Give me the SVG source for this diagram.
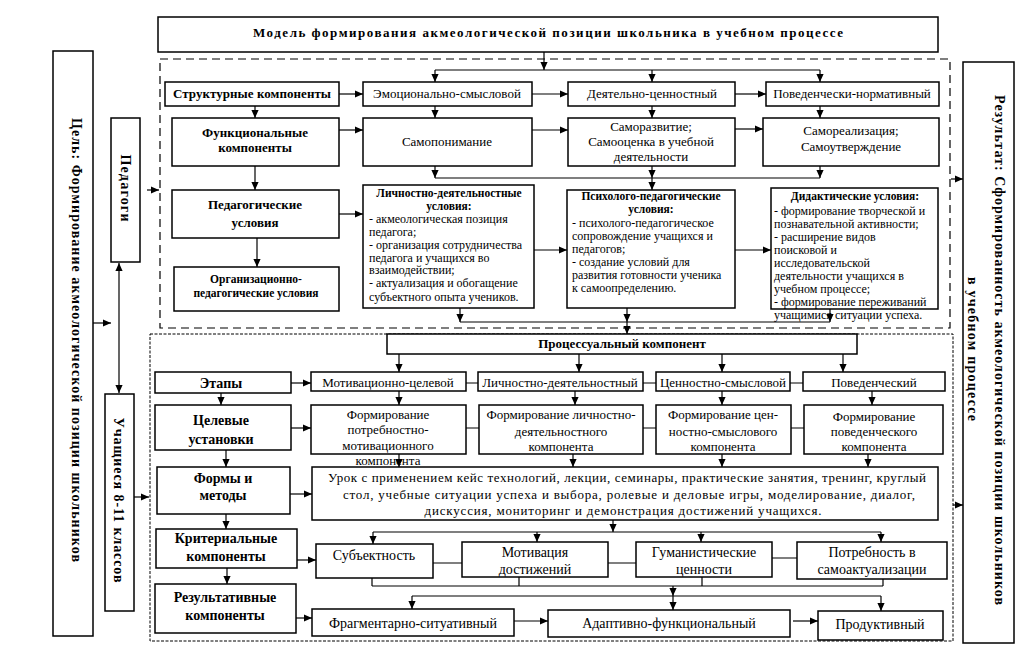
<svg xmlns="http://www.w3.org/2000/svg" width="1022" height="659" viewBox="0 0 1022 659">
<defs>
<marker id="ah" viewBox="0 0 10 10" refX="10" refY="5" markerWidth="8" markerHeight="8" markerUnits="userSpaceOnUse" orient="auto"><path d="M0,0.5 L10,5 L0,9.5 z" fill="#000"/></marker>
<marker id="as" viewBox="0 0 10 10" refX="10" refY="5" markerWidth="8" markerHeight="8" markerUnits="userSpaceOnUse" orient="auto-start-reverse"><path d="M0,0.5 L10,5 L0,9.5 z" fill="#000"/></marker>
</defs>
<style>
.bx{fill:#fff;stroke:#000;stroke-width:1.5}
.fr{fill:none;stroke:#000}
text{font-family:"Liberation Serif","Times New Roman",serif;fill:#000}
.t{font-size:13px;text-anchor:middle}
.tm{font-size:14px;text-anchor:middle}
.s{font-size:12px}
.sc{font-size:11.5px;text-anchor:middle}
.b{font-weight:bold}
.cn path{stroke:#000;stroke-width:1.2;fill:none}
.cn .ar{marker-end:url(#ah)}
</style>
<rect width="1022" height="659" fill="#fff"/>

<g id="frames">
<rect class="fr" x="160" y="59" width="790" height="269" stroke-width="1.2" stroke-dasharray="8,5"/>
<rect class="fr" x="150" y="334" width="803" height="307" stroke-width="1" stroke-dasharray="3,1.5"/>
</g>

<g class="cn" id="connectors">
<path class="ar" d="M147,190 H159"/>
<path class="ar" d="M93,323 H111"/>
<path class="ar" d="M134,497 H149"/>
<path d="M119,263 V393" marker-start="url(#as)" marker-end="url(#ah)"/>
<path class="ar" d="M951,179 H963"/>
<path class="ar" d="M953,505 H963"/>
<path class="ar" d="M544,52 V70"/>
<path d="M435,70 H820"/>
<path class="ar" d="M435,70 V82"/>
<path class="ar" d="M652,70 V82"/>
<path class="ar" d="M820,70 V82"/>
<path class="ar" d="M339,94 H363"/>
<path class="ar" d="M532,94 H568"/>
<path class="ar" d="M735,94 H766"/>
<path class="ar" d="M255,106 V118"/>
<path class="ar" d="M435,106 V118"/>
<path class="ar" d="M652,106 V118"/>
<path class="ar" d="M820,106 V118"/>
<path class="ar" d="M339,130 H363"/>
<path class="ar" d="M532,130 H568"/>
<path class="ar" d="M735,129 H763"/>
<path class="ar" d="M255,166 V190"/>
<path class="ar" d="M435,166 V178"/>
<path class="ar" d="M652,166 V178"/>
<path class="ar" d="M820,166 V178"/>
<path d="M435,178 H820"/>
<path class="ar" d="M652,178 V190"/>
<path class="ar" d="M257,238 V267"/>
<path class="ar" d="M339,214 H363"/>
<path class="ar" d="M534,250 H567"/>
<path class="ar" d="M735,250 H771"/>
<path class="ar" d="M460,308 V322"/>
<path class="ar" d="M627,308 V322"/>
<path class="ar" d="M830,309 V322"/>
<path d="M460,322 H830"/>
<path class="ar" d="M627,322 V334"/>
<path class="ar" d="M399,354 V372"/>
<path class="ar" d="M579,354 V372"/>
<path class="ar" d="M722,354 V372"/>
<path class="ar" d="M843,354 V372"/>
<path class="ar" d="M291,383 H311"/>
<path d="M466,383 H478 M643,383 H656 M790,383 H803"/>
<path class="ar" d="M221,393 V405"/>
<path class="ar" d="M399,391 V405"/>
<path class="ar" d="M575,391 V405"/>
<path class="ar" d="M722,391 V405"/>
<path class="ar" d="M872,391 V405"/>
<path class="ar" d="M291,428 H311"/>
<path d="M466,428 H479 M643,428 H656 M791,428 H804"/>
<path class="ar" d="M226,450 V467"/>
<path class="ar" d="M399,454 V467"/>
<path class="ar" d="M573,454 V467"/>
<path class="ar" d="M722,454 V467"/>
<path class="ar" d="M868,454 V467"/>
<path class="ar" d="M290,494 H312"/>
<path class="ar" d="M226,514 V529"/>
<path class="ar" d="M613,520 V532"/>
<path d="M373,532 H881"/>
<path class="ar" d="M373,532 V544"/>
<path class="ar" d="M537,532 V542"/>
<path class="ar" d="M701,532 V542"/>
<path class="ar" d="M881,532 V542"/>
<path class="ar" d="M297,560 H316"/>
<path d="M433,563 H462 M608,563 H636 M772,558 H797"/>
<path d="M372,578 V586 M519,577 V586 M702,577 V586 M883,579 V586 M372,586 H883"/>
<path class="ar" d="M673,586 V596"/>
<path d="M412,596 H881"/>
<path class="ar" d="M412,596 V609"/>
<path class="ar" d="M673,596 V610"/>
<path class="ar" d="M881,596 V611"/>
<path class="ar" d="M227,568 V584"/>
<path class="ar" d="M296,618 H312"/>
<path class="ar" d="M514,621 H548"/>
<path class="ar" d="M793,621 H818"/>
</g>

<g id="title"><rect class="bx" x="158" y="17" width="780" height="35"/>
<text class="t b" x="548" y="37" font-size="14.5" textLength="590">Модель формирования акмеологической позиции школьника в учебном процессе</text></g>

<g id="goal"><rect class="bx" x="53" y="51" width="40" height="585"/>
<text class="tm b" transform="translate(72,340) rotate(90)" textLength="444">Цель: Формирование акмеологической позиции школьников</text></g>

<g id="teachers"><rect class="bx" x="111" y="118" width="29" height="144"/>
<text class="tm b" transform="translate(121,188) rotate(90)" textLength="67">Педагоги</text></g>

<g id="students"><rect class="bx" x="105" y="394" width="29" height="217"/>
<text class="tm b" transform="translate(114,500) rotate(90)" textLength="165">Учащиеся 8-11 классов</text></g>

<g id="result"><rect class="bx" x="963" y="62" width="51" height="581"/>
<text class="tm b" transform="translate(995,350) rotate(90)" textLength="510">Результат: Сформированность акмеологической позиции школьников</text>
<text class="tm b" transform="translate(968,349) rotate(90)" textLength="144">в учебном процессе</text></g>

<g id="structural"><rect class="bx" x="165" y="82" width="174" height="24"/>
<text class="t b" x="252" y="98" textLength="158">Структурные компоненты</text></g>
<g id="emotional"><rect class="bx" x="363" y="82" width="169" height="24"/>
<text class="t" x="447" y="98">Эмоционально-смысловой</text></g>
<g id="activity-value"><rect class="bx" x="568" y="82" width="167" height="24"/>
<text class="t" x="652" y="98">Деятельно-ценностный</text></g>
<g id="behavioral-normative"><rect class="bx" x="766" y="82" width="173" height="24"/>
<text class="t" x="852" y="98">Поведенчески-нормативный</text></g>

<g id="functional"><rect class="bx" x="172" y="118" width="167" height="48"/>
<text class="t b" x="255" y="137">Функциональные</text><text class="t b" x="255" y="152">компоненты</text></g>
<g id="self-understanding"><rect class="bx" x="363" y="118" width="169" height="48"/>
<text class="t" x="447" y="146">Самопонимание</text></g>
<g id="self-development"><rect class="bx" x="568" y="118" width="167" height="48"/>
<text class="t" x="651" y="131">Саморазвитие;</text><text class="t" x="651" y="146">Самооценка в учебной</text><text class="t" x="651" y="161">деятельности</text></g>
<g id="self-realization"><rect class="bx" x="763" y="118" width="176" height="48"/>
<text class="t" x="851" y="135">Самореализация;</text><text class="t" x="851" y="151">Самоутверждение</text></g>

<g id="ped-conditions"><rect class="bx" x="172" y="190" width="167" height="48"/>
<text class="t b" x="255" y="209" font-size="14.5">Педагогические</text><text class="t b" x="255" y="227" font-size="14.5">условия</text></g>
<g id="org-conditions"><rect class="bx" x="174" y="267" width="165" height="44"/>
<text class="sc b" x="256" y="283">Организационно-</text><text class="sc b" x="256" y="297">педагогические условия</text></g>

<g id="personal-conditions"><rect class="bx" x="363" y="185" width="171" height="123"/>
<text class="sc b" x="449" y="197">Личностно-деятельностные</text>
<text class="sc b" x="449" y="210">условия:</text>
<text class="s" x="369" y="223">- акмеологическая позиция</text>
<text class="s" x="369" y="236">педагога;</text>
<text class="s" x="369" y="249">- организация сотрудничества</text>
<text class="s" x="369" y="262">педагога и учащихся во</text>
<text class="s" x="369" y="274">взаимодействии;</text>
<text class="s" x="369" y="287">- актуализация и обогащение</text>
<text class="s" x="369" y="301">субъектного опыта учеников.</text></g>

<g id="psych-conditions"><rect class="bx" x="567" y="190" width="168" height="118"/>
<text class="sc b" x="651" y="200">Психолого-педагогические</text>
<text class="sc b" x="651" y="213">условия:</text>
<text class="s" x="572" y="227">- психолого-педагогическое</text>
<text class="s" x="572" y="240">сопровождение  учащихся и</text>
<text class="s" x="572" y="253">педагогов;</text>
<text class="s" x="572" y="266">- создание условий для</text>
<text class="s" x="572" y="279">развития готовности ученика</text>
<text class="s" x="572" y="292">к самоопределению.</text></g>

<g id="didactic-conditions"><rect class="bx" x="771" y="188" width="167" height="121"/>
<text class="sc b" x="855" y="200">Дидактические условия:</text>
<text class="s" x="774" y="215">- формирование творческой и</text>
<text class="s" x="774" y="228">познавательной активности;</text>
<text class="s" x="774" y="241">- расширение видов</text>
<text class="s" x="774" y="254">поисковой и</text>
<text class="s" x="774" y="267">исследовательской</text>
<text class="s" x="774" y="280">деятельности учащихся в</text>
<text class="s" x="774" y="293">учебном процессе;</text>
<text class="s" x="774" y="306">- формирование переживаний</text>
<text class="s" x="774" y="319">учащимися ситуации успеха.</text></g>

<g id="process"><rect class="bx" x="387" y="334" width="470" height="20"/>
<text class="t b" x="622" y="348">Процессуальный компонент</text></g>

<g id="stages"><rect class="bx" x="155" y="372" width="136" height="21"/>
<text class="tm b" x="221" y="388" font-size="15">Этапы</text></g>
<g id="stage-motivational"><rect class="bx" x="311" y="372" width="155" height="19"/>
<text class="t" x="388" y="387">Мотивационно-целевой</text></g>
<g id="stage-personal"><rect class="bx" x="478" y="372" width="165" height="19"/>
<text class="t" x="560" y="387">Личностно-деятельностный</text></g>
<g id="stage-value"><rect class="bx" x="656" y="372" width="134" height="19"/>
<text class="t" x="723" y="387">Ценностно-смысловой</text></g>
<g id="stage-behavioral"><rect class="bx" x="803" y="372" width="142" height="19"/>
<text class="t" x="874" y="387">Поведенческий</text></g>

<g id="targets"><rect class="bx" x="155" y="405" width="136" height="45"/>
<text class="tm b" x="221" y="425" font-size="15.5">Целевые</text><text class="tm b" x="221" y="444" font-size="15.5">установки</text></g>
<g id="target-1"><rect class="bx" x="311" y="405" width="155" height="49"/>
<text class="t" x="388" y="419">Формирование</text><text class="t" x="388" y="434">потребностно-</text><text class="t" x="388" y="450">мотивационного</text><text class="t" x="388" y="465">компонента</text></g>
<g id="target-2"><rect class="bx" x="479" y="405" width="164" height="49"/>
<text class="t" x="561" y="419">Формирование личностно-</text><text class="t" x="561" y="436">деятельностного</text><text class="t" x="561" y="451">компонента</text></g>
<g id="target-3"><rect class="bx" x="656" y="405" width="135" height="49"/>
<text class="t" x="723" y="419">Формирование цен-</text><text class="t" x="723" y="436">ностно-смыслового</text><text class="t" x="723" y="451">компонента</text></g>
<g id="target-4"><rect class="bx" x="804" y="405" width="139" height="49"/>
<text class="t" x="874" y="421">Формирование</text><text class="t" x="874" y="436">поведенческого</text><text class="t" x="874" y="451">компонента</text></g>

<g id="forms"><rect class="bx" x="157" y="467" width="133" height="47"/>
<text class="tm b" x="223" y="483" font-size="15.5">Формы и</text><text class="tm b" x="223" y="500" font-size="15.5">методы</text></g>
<g id="lesson"><rect class="bx" x="312" y="467" width="626" height="53"/>
<text class="t" x="627" y="482" font-size="13.5" textLength="598">Урок с применением кейс технологий, лекции, семинары, практические занятия, тренинг, круглый</text>
<text class="t" x="629" y="499" font-size="13.5" textLength="572">стол, учебные ситуации успеха и выбора, ролевые и деловые игры, моделирование,  диалог,</text>
<text class="t" x="623" y="515" font-size="13.5" textLength="397">дискуссия,  мониторинг и демонстрация достижений учащихся.</text></g>

<g id="criteria"><rect class="bx" x="156" y="529" width="141" height="39"/>
<text class="tm b" x="226" y="543" font-size="15">Критериальные</text><text class="tm b" x="226" y="561" font-size="15">компоненты</text></g>
<g id="subjectness"><rect class="bx" x="316" y="544" width="117" height="34"/>
<text class="tm" x="374" y="560">Субъектность</text></g>
<g id="achievement"><rect class="bx" x="462" y="542" width="146" height="35"/>
<text class="tm" x="535" y="557">Мотивация</text><text class="tm" x="535" y="574">достижений</text></g>
<g id="humanistic"><rect class="bx" x="636" y="542" width="136" height="35"/>
<text class="tm" x="704" y="557">Гуманистические</text><text class="tm" x="704" y="574">ценности</text></g>
<g id="self-actualization"><rect class="bx" x="797" y="542" width="150" height="37"/>
<text class="tm" x="872" y="557">Потребность в</text><text class="tm" x="872" y="574">самоактуализации</text></g>

<g id="results"><rect class="bx" x="155" y="584" width="141" height="49"/>
<text class="tm b" x="225" y="602" font-size="15">Результативные</text><text class="tm b" x="225" y="620" font-size="15">компоненты</text></g>
<g id="fragmentary"><rect class="bx" x="312" y="609" width="202" height="27"/>
<text class="tm" x="413" y="628">Фрагментарно-ситуативный</text></g>
<g id="adaptive"><rect class="bx" x="548" y="610" width="242" height="27"/>
<text class="tm" x="669" y="628">Адаптивно-функциональный</text></g>
<g id="productive"><rect class="bx" x="818" y="611" width="125" height="29"/>
<text class="tm" x="880" y="629">Продуктивный</text></g>
</svg>
